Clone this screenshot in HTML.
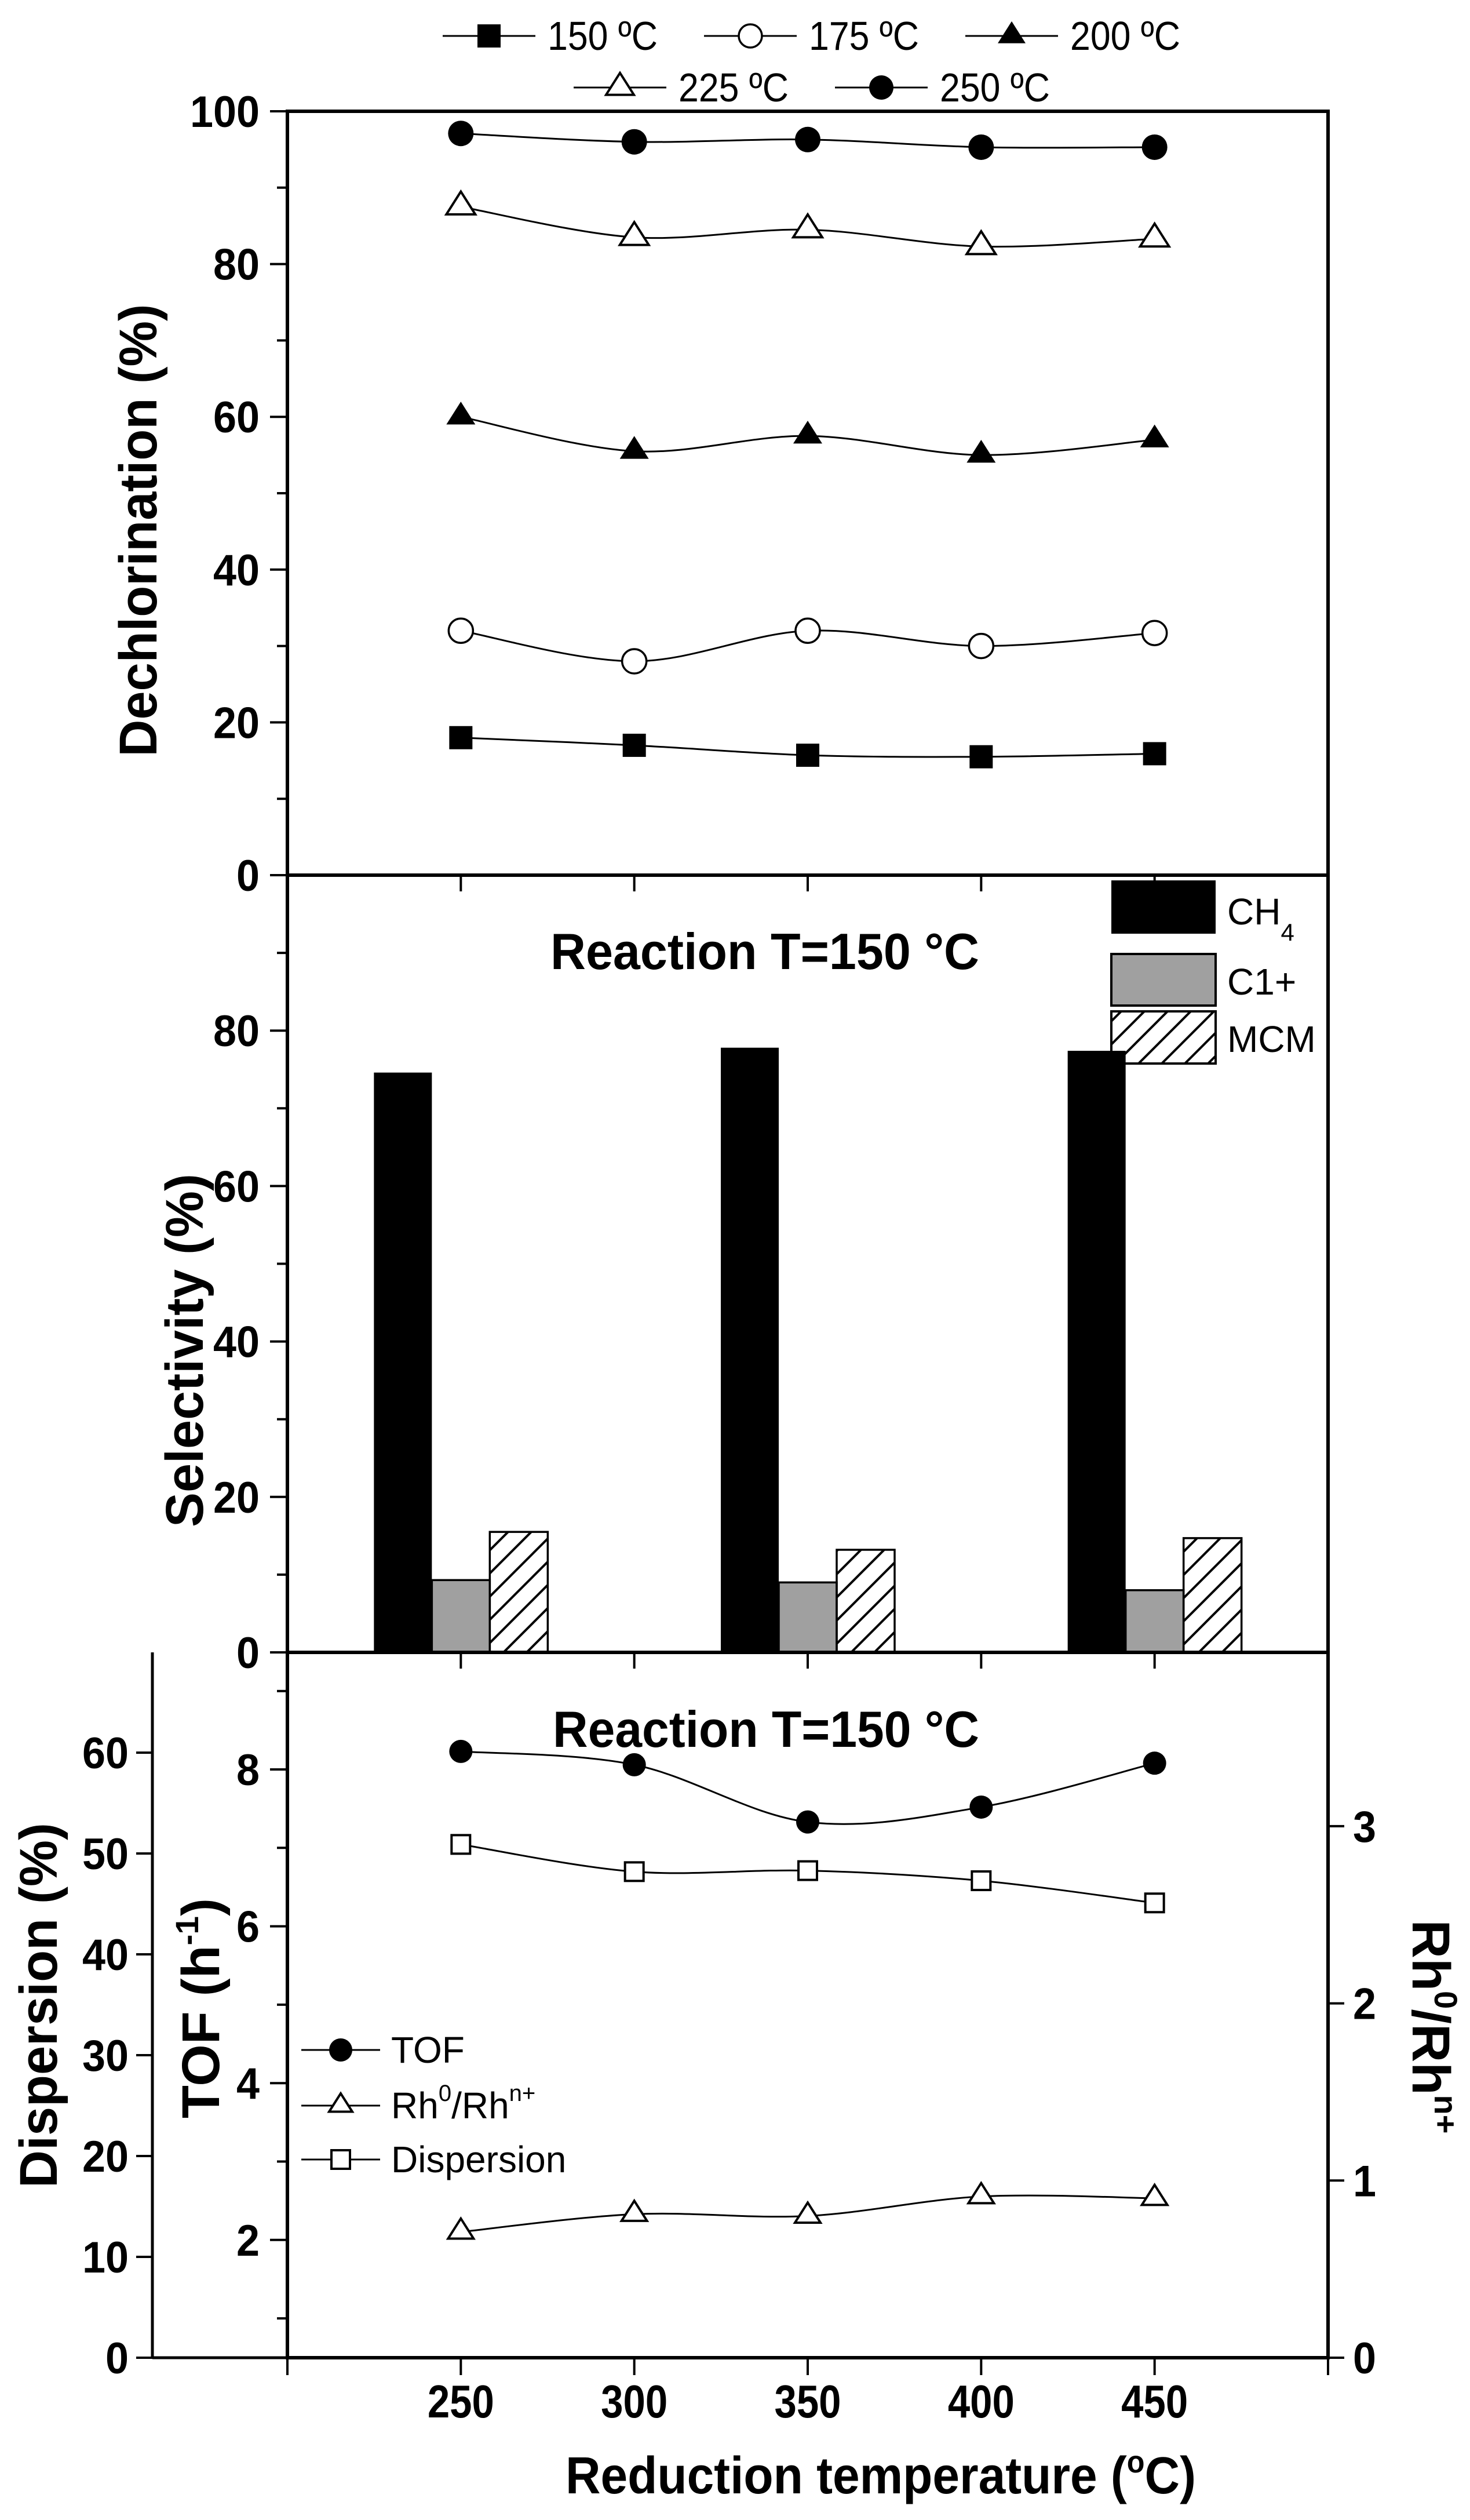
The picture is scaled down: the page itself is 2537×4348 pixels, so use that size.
<!DOCTYPE html>
<html><head><meta charset="utf-8"><style>
html,body{margin:0;padding:0;background:#fff}
svg{display:block}
text{font-family:"Liberation Sans",sans-serif;fill:#000}
</style></head><body>
<svg id="fig" xmlns="http://www.w3.org/2000/svg" width="2537" height="4348" viewBox="0 0 2537 4348">
<defs>
<pattern id="hatch" patternUnits="userSpaceOnUse" width="40" height="40">
<path d="M-10,10 L10,-10 M0,40 L40,0 M30,50 L50,30" stroke="#000" stroke-width="4"/>
</pattern>
</defs>
</svg>
<script>
// ---------- data ----------
const xCats = [250, 300, 350, 400, 450];
const xTicks = [200, 250, 300, 350, 400, 450, 500];
const xTickLabels = ["250", "300", "350", "400", "450"];
// top panel: dechlorination (%)
const dechlor150 = [18, 17, 15.7, 15.5, 15.9];
const dechlor175 = [32, 28, 32, 30, 31.7];
const dechlor200 = [60, 55.5, 57.5, 55, 57];
const dechlor225 = [87.5, 83.5, 84.5, 82.3, 83.3];
const dechlor250 = [97.1, 96, 96.3, 95.3, 95.3];
const dechlorTicks = [0, 20, 40, 60, 80, 100];
// middle panel: selectivity (%)
const barCats = [250, 350, 450];
const selCH4 = [74.6, 77.8, 77.4];
const selC1 = [9.3, 9.0, 8.0];
const selMCM = [15.5, 13.2, 14.7];
const selTicks = [0, 20, 40, 60, 80];
// bottom panel
const tofVals = [8.23, 8.06, 7.33, 7.52, 8.08];
const rhVals = [0.71, 0.81, 0.80, 0.91, 0.90];
const dispVals = [50.9, 48.2, 48.3, 47.3, 45.1];
const tofTicks = [2, 4, 6, 8];
const rhTicks = [0, 1, 2, 3];
const dispTicks = [0, 10, 20, 30, 40, 50, 60];

// ---------- scales ----------
const X0 = 496, X1 = 2292;
const x = v => X0 + (v - 200) / 300 * (X1 - X0);
const T0 = 1510, T1 = 192;
const yTop = v => T0 + (T1 - T0) * v / 100;
const M0 = 2851, M1 = 1510;
const yMid = v => M0 + (M1 - M0) * v / 100;
const B0 = 4068, B1 = 2851;
const yTOF = v => 3053 - (v - 8) * 135.3;
const yRh = v => B0 - v * 305.7;
const yDisp = v => B0 - v * 17.4;
const DX = 263;

const svg = document.getElementById('fig');
const NS = 'http://www.w3.org/2000/svg';
function mk(tag, attrs, parent) {
  const e = document.createElementNS(NS, tag);
  for (const k in attrs) e.setAttribute(k, attrs[k]);
  (parent || svg).appendChild(e);
  return e;
}
function line(x1, y1, x2, y2, w, p) { return mk('line', {x1, y1, x2, y2, stroke: '#000', 'stroke-width': w}, p); }
function txt(s, xx, yy, size, opts, p) {
  opts = opts || {};
  const a = {x: xx, y: yy, 'font-size': size, 'text-anchor': opts.anchor || 'middle'};
  if (opts.bold) a['font-weight'] = 'bold';
  if (opts.len) { a.textLength = opts.len; a.lengthAdjust = 'spacingAndGlyphs'; }
  if (opts.rot) a.transform = 'rotate(' + opts.rot + ' ' + xx + ' ' + yy + ')';
  const t = mk('text', a, p);
  t.textContent = s;
  return t;
}
function smooth(pts) {
  let d = 'M' + pts[0][0] + ',' + pts[0][1];
  for (let i = 0; i < pts.length - 1; i++) {
    const p0 = pts[Math.max(0, i - 1)], p1 = pts[i], p2 = pts[i + 1], p3 = pts[Math.min(pts.length - 1, i + 2)];
    const c1x = p1[0] + (p2[0] - p0[0]) / 6, c1y = p1[1] + (p2[1] - p0[1]) / 6;
    const c2x = p2[0] - (p3[0] - p1[0]) / 6, c2y = p2[1] - (p3[1] - p1[1]) / 6;
    d += ' C' + c1x + ',' + c1y + ' ' + c2x + ',' + c2y + ' ' + p2[0] + ',' + p2[1];
  }
  return d;
}
function marker(kind, cx, cy, s, p) {
  if (kind === 'square') return mk('rect', {x: cx - s, y: cy - s, width: 2 * s, height: 2 * s, fill: '#000'}, p);
  if (kind === 'osquare') return mk('rect', {x: cx - s, y: cy - s, width: 2 * s, height: 2 * s, fill: '#fff', stroke: '#000', 'stroke-width': 4}, p);
  if (kind === 'circle') return mk('circle', {cx, cy, r: s, fill: '#000'}, p);
  if (kind === 'ocircle') return mk('circle', {cx, cy, r: s, fill: '#fff', stroke: '#000', 'stroke-width': 3.5}, p);
  const h = s * 1.05;
  const pts = (cx - s) + ',' + (cy + h * 0.5) + ' ' + (cx + s) + ',' + (cy + h * 0.5) + ' ' + cx + ',' + (cy - h);
  if (kind === 'triangle') return mk('polygon', {points: pts, fill: '#000'}, p);
  return mk('polygon', {points: pts, fill: '#fff', stroke: '#000', 'stroke-width': 4}, p);
}
function series(vals, yf, kind, s, name) {
  const g = mk('g', {});
  
  
  const pts = vals.map((v, i) => [x(xCats[i]), yf(v)]);
  mk('path', {d: smooth(pts), fill: 'none', stroke: '#000', 'stroke-width': 3}, g);
  pts.forEach(pt => {
    const m = marker(kind, pt[0], pt[1], s, g);
    
    
  });
}

// ---------- frames ----------
const frames = mk('g', {});


mk('rect', {x: X0, y: T1, width: X1 - X0, height: B0 - T1, fill: 'none', stroke: '#000', 'stroke-width': 6}, frames);
line(X0, T0, X1, T0, 6, frames);
line(X0, M0, X1, M0, 6, frames);

// ---------- top panel ----------
const topAx = mk('g', {});


for (let v = 0; v <= 100; v += 10) {
  const major = v % 20 === 0;
  line(X0 - (major ? 30 : 18), yTop(v), X0, yTop(v), 4, topAx);
}
dechlorTicks.forEach(v => txt(String(v), 448, yTop(v) + 27, 76, {anchor: 'end', bold: true, len: String(v).length * 40}, topAx));
xCats.forEach(c => line(x(c), T0, x(c), T0 + 28, 4, topAx));
txt('Dechlorination (%)', 270, 915, 92, {bold: true, rot: -90, len: 781}, topAx);

series(dechlor150, yTop, 'square', 20, 'series-150c');
series(dechlor175, yTop, 'ocircle', 21, 'series-175c');
series(dechlor200, yTop, 'triangle', 25, 'series-200c');
series(dechlor225, yTop, 'otriangle', 25, 'series-225c');
series(dechlor250, yTop, 'circle', 22, 'series-250c');

// top legend
const legItems = [
  ['square', '150 ºC', 844, 62, 86, 20],
  ['ocircle', '175 ºC', 1295, 62, 86, 20],
  ['triangle', '200 ºC', 1746, 62, 86, 24],
  ['otriangle', '225 ºC', 1070, 151, 175, 24],
  ['circle', '250 ºC', 1521, 151, 175, 21]
];
legItems.forEach(it => {
  const g = mk('g', {});
  
  
  line(it[2] - 80, it[3], it[2] + 80, it[3], 3, g);
  marker(it[0], it[2], it[3], it[5], g);
  txt(it[1], it[2] + 101, it[4], 70, {anchor: 'start', len: 190}, g);
});

// ---------- middle panel ----------
const midAx = mk('g', {});


for (let v = 0; v < 100; v += 10) {
  const major = v % 20 === 0;
  line(X0 - (major ? 30 : 18), yMid(v), X0, yMid(v), 4, midAx);
}
selTicks.forEach(v => txt(String(v), 448, yMid(v) + 27, 76, {anchor: 'end', bold: true, len: String(v).length * 40}, midAx));
xCats.forEach(c => line(x(c), M0, x(c), M0 + 28, 4, midAx));
txt('Selectivity (%)', 350, 2330, 92, {bold: true, rot: -90, len: 610}, midAx);

const BW = 100;
const barSeries = [[selCH4, '#000', 'bar-ch4'], [selC1, '#a0a0a0', 'bar-c1plus'], [selMCM, 'url(#hatch)', 'bar-mcm']];
barSeries.forEach((bs, j) => {
  bs[0].forEach((v, i) => {
    const cx = x(barCats[i]) + (j - 1) * BW;
    const r = mk('rect', {x: cx - BW / 2, y: yMid(v), width: BW, height: M0 - yMid(v), fill: bs[1], stroke: '#000', 'stroke-width': j === 0 ? 0 : 3.5});
    
    
  });
});
line(X0, M0, X1, M0, 6);

// middle legend
const mLeg = [['#000', 'CH', '4', 1519, 1611, 1595], ['#a0a0a0', 'C1+', '', 1646, 1735, 1716], ['url(#hatch)', 'MCM', '', 1745, 1835, 1815]];
mLeg.forEach(it => {
  const g = mk('g', {});
  
  
  mk('rect', {x: 1918, y: it[3], width: 180, height: it[4] - it[3], fill: it[0], stroke: '#000', 'stroke-width': it[0] === '#000' ? 0 : 4}, g);
  const t = txt(it[1], 2118, it[5], 64, {anchor: 'start'}, g);
  if (it[2]) {
    const ts = mk('tspan', {'font-size': 42, dy: 28});
    ts.textContent = it[2];
    t.appendChild(ts);
  }
});
const tm = txt('Reaction T=150 °C', 1320, 1672, 88, {bold: true, len: 740});



// ---------- bottom panel ----------
const botAx = mk('g', {});


for (let v = 1; v <= 9; v++) {
  const major = v % 2 === 0;
  line(X0 - (major ? 30 : 18), yTOF(v), X0, yTOF(v), 4, botAx);
}
tofTicks.forEach(v => txt(String(v), 448, yTOF(v) + 27, 76, {anchor: 'end', bold: true, len: 40}, botAx));
const tofT = txt('TOF (h', 378, 3465, 92, {bold: true, rot: -90, anchor: 'middle', len: 380}, botAx);
const sup1 = mk('tspan', {'font-size': 56, dy: -36});
sup1.textContent = '-1';
tofT.appendChild(sup1);
const sup1b = mk('tspan', {dy: 36});
sup1b.textContent = ')';
tofT.appendChild(sup1b);

const dispAx = mk('g', {});


line(DX, B1, DX, B0, 5, dispAx);
line(DX, B0, X0, B0, 5, dispAx);
dispTicks.forEach(v => {
  line(DX - 28, yDisp(v), DX, yDisp(v), 4, dispAx);
  txt(String(v), 222, yDisp(v) + 27, 76, {anchor: 'end', bold: true, len: String(v).length * 40}, dispAx);
});
txt('Dispersion (%)', 98, 3460, 92, {bold: true, rot: -90, len: 630}, dispAx);

const rhAx = mk('g', {});


rhTicks.forEach(v => {
  line(X1, yRh(v), X1 + 28, yRh(v), 4, rhAx);
  txt(String(v), 2355, yRh(v) + 27, 76, {bold: true, len: 40}, rhAx);
});
const rhT = txt('Rh', 2438, 3497, 92, {bold: true, rot: 90, anchor: 'middle'}, rhAx);
const s0 = mk('tspan', {'font-size': 56, dy: -38}); s0.textContent = '0'; rhT.appendChild(s0);
const s1 = mk('tspan', {dy: 38}); s1.textContent = '/Rh'; rhT.appendChild(s1);
const s2 = mk('tspan', {'font-size': 56, dy: -38}); s2.textContent = 'n+'; rhT.appendChild(s2);

const xAx = mk('g', {});


xTicks.forEach(c => line(x(c), B0, x(c), B0 + 30, 4, xAx));
xCats.forEach((c, i) => txt(xTickLabels[i], x(c), 4171, 80, {bold: true, len: 115}, xAx));
const xt = txt('Reduction temperature (', 976, 4302, 90, {bold: true, anchor: 'start', len: 1088}, xAx);

const xo = mk('tspan', {'font-size': 54, dy: -36}); xo.textContent = 'o'; xt.appendChild(xo);
const xc = mk('tspan', {dy: 36}); xc.textContent = 'C)'; xt.appendChild(xc);

series(tofVals, yTOF, 'circle', 20, 'series-tof');
series(dispVals, yDisp, 'osquare', 16, 'series-dispersion');
series(rhVals, yRh, 'otriangle', 22, 'series-rh-ratio');

const tb = txt('Reaction T=150 °C', 1322, 3014, 88, {bold: true, len: 736});



// bottom legend
const bLeg = [['circle', 'TOF', 3537, 20], ['otriangle', 'Rh', 3633, 20], ['osquare', 'Dispersion', 3726, 16]];
bLeg.forEach(it => {
  const g = mk('g', {});
  
  
  line(520, it[2], 656, it[2], 3, g);
  marker(it[0], 588, it[2], it[3], g);
  const t = txt(it[1], 675, it[2] + 22, 64, {anchor: 'start'}, g);
  if (it[1] === 'Rh') {
    const a = mk('tspan', {'font-size': 40, dy: -30}); a.textContent = '0'; t.appendChild(a);
    const b = mk('tspan', {dy: 30}); b.textContent = '/Rh'; t.appendChild(b);
    const c = mk('tspan', {'font-size': 40, dy: -30}); c.textContent = 'n+'; t.appendChild(c);
  }
});
</script>
</body></html>
